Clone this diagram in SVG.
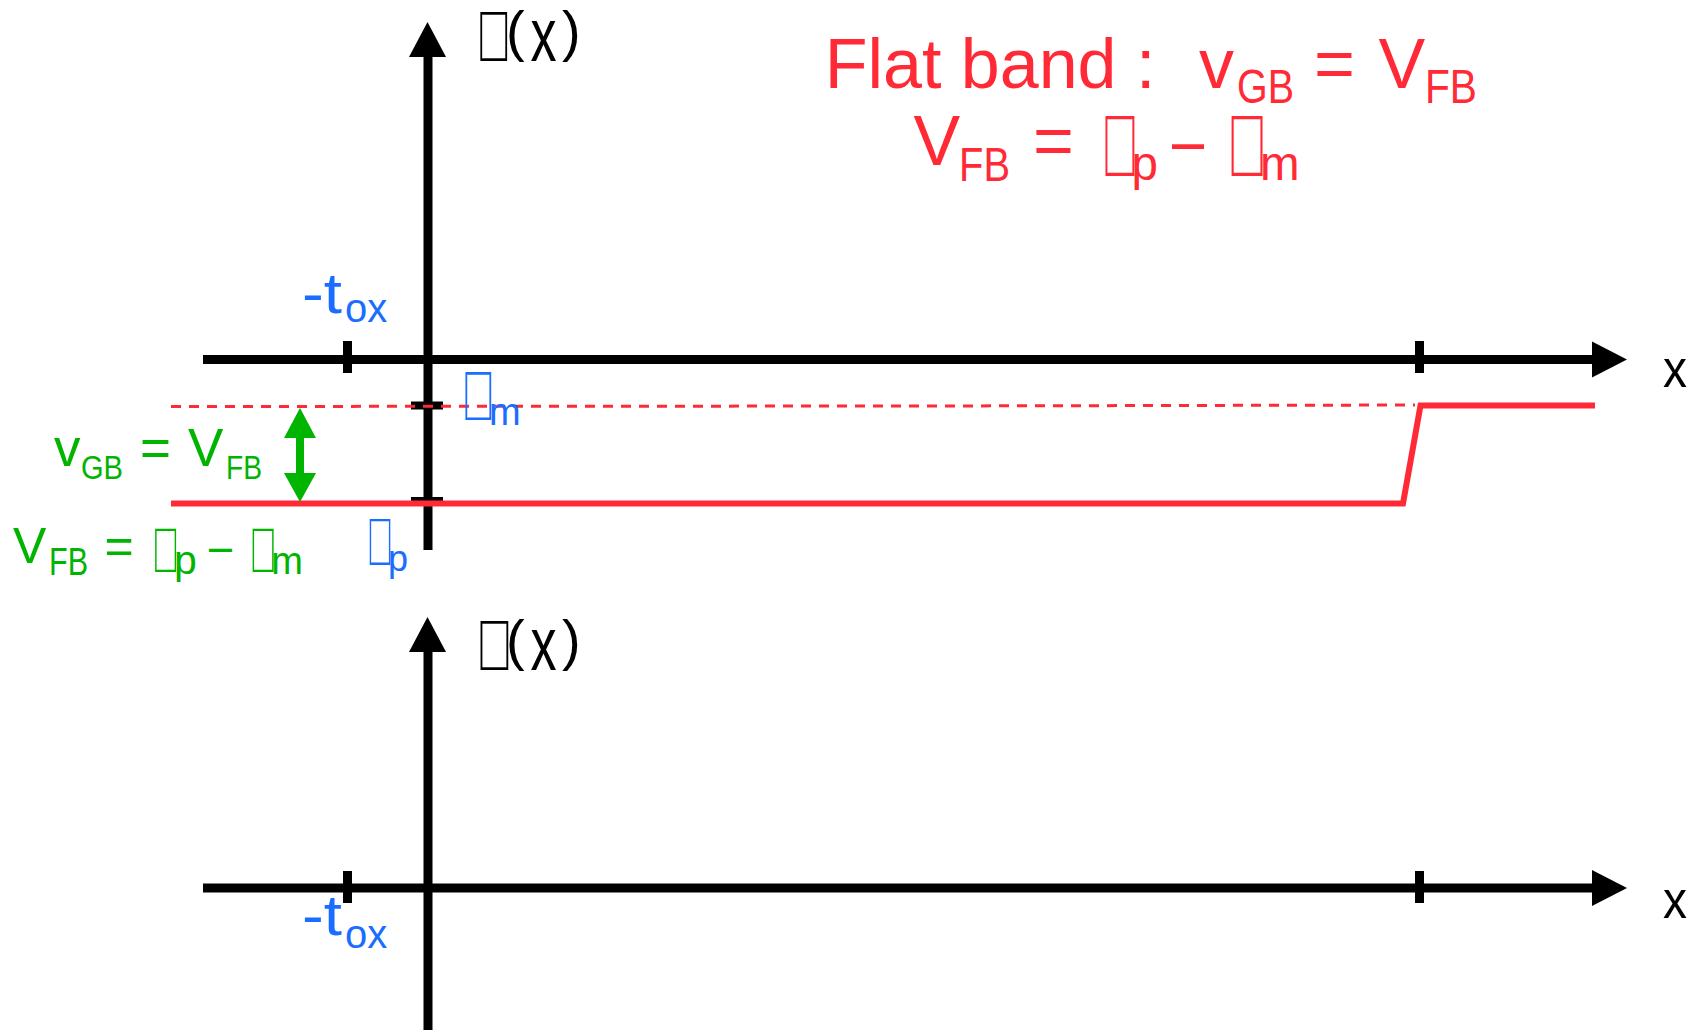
<svg xmlns="http://www.w3.org/2000/svg" width="1694" height="1030" viewBox="0 0 1694 1030">
<style>
text{font-family:"Liberation Sans",Arial,sans-serif}
.k{fill:#000}
.r{fill:#ff2a36}
.g{fill:#00b400}
.b{fill:#1a6dff}
.ax{stroke:#000;stroke-width:9;fill:none}
.tk{stroke:#000;stroke-width:9;fill:none}
.tofu{font-size:56px}
</style>
<rect width="1694" height="1030" fill="#fff"/>
<g id="connectors">
<line class="ax" x1="428" y1="55" x2="428" y2="550"/>
<polygon class="k" points="409,57 446,57 427.5,22"/>
<line class="ax" x1="203" y1="359.5" x2="1594" y2="359.5"/>
<polygon class="k" points="1592,341.5 1592,377.5 1627,359.5"/>
<line class="tk" x1="347.5" y1="341" x2="347.5" y2="373"/>
<line class="tk" x1="1419.5" y1="341" x2="1419.5" y2="373"/>
<line class="tk" x1="411" y1="405.5" x2="443" y2="405.5" style="stroke-width:8"/>
<line class="tk" x1="411" y1="501" x2="443" y2="501" style="stroke-width:8"/>
<polyline points="171,406.5 927,406 1415,405" fill="none" stroke="#ff2a36" stroke-width="3" stroke-dasharray="10 8"/>
<polyline points="171,503.5 1403,503.5 1420.5,405.5 1595,405.5" fill="none" stroke="#ff2a36" stroke-width="6"/>
<line x1="300" y1="436" x2="300" y2="475" stroke="#00b400" stroke-width="8"/>
<polygon class="g" points="284,438 316,438 300,408"/>
<polygon class="g" points="284,473 316,473 300,502"/>
<line class="ax" x1="428" y1="650" x2="428" y2="1030"/>
<polygon class="k" points="409,652 446,652 427.5,617"/>
<line class="ax" x1="203" y1="888" x2="1594" y2="888"/>
<polygon class="k" points="1592,870 1592,906 1627,888"/>
<line class="tk" x1="347.5" y1="871" x2="347.5" y2="903"/>
<line class="tk" x1="1419.5" y1="871" x2="1419.5" y2="903"/>
</g>
<g id="phi-top">
<text class="k tofu" transform="translate(475.6,61) scale(0.871,1.27)">&#xF066;</text>
<text class="k" x="506" y="50" font-size="56">(</text>
<text class="k" transform="translate(530.5,60.7) scale(0.93,1.34)" font-size="56">x</text>
<text class="k" x="562" y="50" font-size="56">)</text>
</g>
<g id="phi-bottom">
<text class="k tofu" transform="translate(475.5,670) scale(0.903,1.27)">&#xF066;</text>
<text class="k" x="506" y="659" font-size="56">(</text>
<text class="k" transform="translate(530.5,669.7) scale(0.93,1.34)" font-size="56">x</text>
<text class="k" x="562" y="659" font-size="56">)</text>
</g>
<g id="x-top"><text class="k" x="1663" y="387" font-size="54" textLength="24" lengthAdjust="spacingAndGlyphs">x</text></g>
<g id="x-bottom"><text class="k" x="1663" y="918" font-size="54" textLength="24" lengthAdjust="spacingAndGlyphs">x</text></g>
<g id="tox-top"><text class="b" x="302" y="313" font-size="57" textLength="40" lengthAdjust="spacingAndGlyphs">-t</text><text class="b" x="345" y="322" font-size="40">ox</text></g>
<g id="tox-bottom"><text class="b" x="302" y="935" font-size="57" textLength="40" lengthAdjust="spacingAndGlyphs">-t</text><text class="b" x="345" y="948" font-size="40">ox</text></g>
<g id="phim">
<text class="b tofu" transform="translate(460.8,420) scale(0.839,1.243)">&#xF066;</text>
<text class="b" x="489" y="425" font-size="38">m</text>
</g>
<g id="phip">
<text class="b tofu" transform="translate(366,565) scale(0.668,1.197)">&#xF066;</text>
<text class="b" x="388" y="571" font-size="36">p</text>
</g>
<g id="green-vgb">
<text class="g" x="54" y="466" font-size="53">v</text>
<text class="g" x="81" y="479" font-size="34" textLength="42" lengthAdjust="spacingAndGlyphs">GB</text>
<text class="g" x="140" y="466" font-size="53">=</text>
<text class="g" x="188" y="466" font-size="53">V</text>
<text class="g" x="226" y="479" font-size="34" textLength="36" lengthAdjust="spacingAndGlyphs">FB</text>
</g>
<g id="green-vfb">
<text class="g" x="13" y="563" font-size="50">V</text>
<text class="g" x="49" y="575" font-size="39" textLength="39" lengthAdjust="spacingAndGlyphs">FB</text>
<text class="g" x="104.5" y="563" font-size="50">=</text>
<text class="g tofu" transform="translate(151.6,571.7) scale(0.677,1.127)">&#xF066;</text>
<text class="g" x="174" y="574" font-size="41">p</text>
<text class="g" x="209" y="563" font-size="50" textLength="23" lengthAdjust="spacingAndGlyphs">–</text>
<text class="g tofu" transform="translate(248.9,571.7) scale(0.677,1.127)">&#xF066;</text>
<text class="g" x="271.3" y="574" font-size="38">m</text>
</g>
<g id="title1">
<text class="r" x="824.7" y="88" font-size="70">Flat band :</text>
<text class="r" x="1199" y="88" font-size="70">v</text>
<text class="r" x="1237" y="103" font-size="47.5" textLength="57" lengthAdjust="spacingAndGlyphs">GB</text>
<text class="r" x="1314" y="88" font-size="70">=</text>
<text class="r" x="1378.5" y="88" font-size="70">V</text>
<text class="r" x="1425" y="103" font-size="47.5" textLength="52" lengthAdjust="spacingAndGlyphs">FB</text>
</g>
<g id="title2">
<text class="r" x="913.5" y="165" font-size="70">V</text>
<text class="r" x="959" y="180.7" font-size="47.5" textLength="51" lengthAdjust="spacingAndGlyphs">FB</text>
<text class="r" x="1033" y="165" font-size="70">=</text>
<text class="r tofu" transform="translate(1100.3,176) scale(0.935,1.56)">&#xF066;</text>
<text class="r" x="1131.5" y="180" font-size="47.5">p</text>
<text class="r" x="1172" y="165" font-size="70" textLength="32" lengthAdjust="spacingAndGlyphs">–</text>
<text class="r tofu" transform="translate(1226,176) scale(1,1.56)">&#xF066;</text>
<text class="r" x="1260" y="180" font-size="47.5">m</text>
</g>
</svg>
